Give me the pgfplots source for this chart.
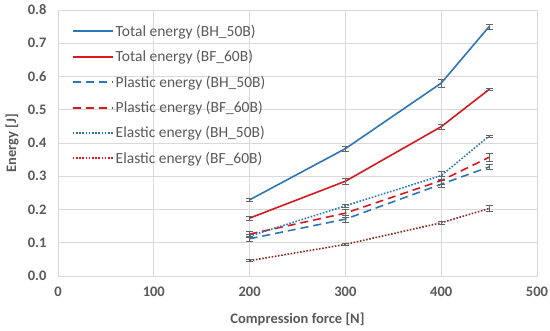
\documentclass[border=0pt]{standalone}
\usepackage{pgfplots}
\pgfplotsset{compat=1.18}
\usepackage{fontspec}
\setmainfont{Carlito}
\definecolor{cblue}{RGB}{46,117,182}
\definecolor{cred}{RGB}{215,25,30}
\definecolor{cbrown}{RGB}{140,45,35}
\definecolor{tgray}{RGB}{89,89,89}
\definecolor{ggray}{RGB}{217,217,217}
\definecolor{egray}{RGB}{100,100,100}
\newcommand{\lt}[1]{\textcolor{tgray}{#1}}
\begin{document}
\begin{tikzpicture}
\begin{axis}[
  name=ax,
  scale only axis,
  width=479pt, height=266pt,
  xmin=0, xmax=500, ymin=0, ymax=0.8,
  xtick={0,100,...,500}, ytick={0,0.1,...,0.8},
  grid=major, major grid style={ggray, line width=0.8pt},
  axis line style={ggray, line width=0.8pt},
  tick style={draw=none},
  /pgf/number format/assume math mode=true,
  ticklabel style={font=\fontsize{14.5}{16}\selectfont\bfseries, text=tgray},
  xticklabel style={yshift=-7pt, /pgf/number format/.cd, fixed, precision=0},
  yticklabel style={xshift=-8pt, /pgf/number format/.cd, fixed, fixed zerofill, precision=1},
  xlabel={Compression force [N]}, ylabel={Energy [J]},
  label style={font=\fontsize{14.5}{16}\selectfont\bfseries, text=tgray},
  xlabel style={at={(axis description cs:0.5,0)}, yshift=-43pt, anchor=center},
  ylabel style={at={(axis description cs:-0.096,0.5)}, anchor=center},
  legend style={at={(0.022,0.96)}, anchor=north west, draw=none, fill=none,
    font=\fontsize{15.5}{17}\selectfont, row sep=8.6pt,
    cells={anchor=west}},
  legend image code/.code={\draw[#1, line width=2pt] (0pt,0pt) -- (40pt,0pt);},
  error bars/error bar style={egray, line width=0.8pt, solid},
  error bars/error mark options={rotate=90, mark size=3.5pt, egray, line width=0.8pt, solid},
]
\addlegendimage{cblue}
\addlegendentry{\lt{Total energy (BH\_50B)}}
\addlegendimage{cred}
\addlegendentry{\lt{Total energy (BF\_60B)}}
\addlegendimage{cblue, dash pattern=on 8pt off 5pt}
\addlegendentry{\lt{Plastic energy (BH\_50B)}}
\addlegendimage{cred, dash pattern=on 8pt off 5pt}
\addlegendentry{\lt{Plastic energy (BF\_60B)}}
\addlegendimage{cblue, dash pattern=on 1.6pt off 1.6pt}
\addlegendentry{\lt{Elastic energy (BH\_50B)}}
\addlegendimage{cred, dash pattern=on 1.6pt off 1.6pt}
\addlegendentry{\lt{Elastic energy (BF\_60B)}}
\addplot[forget plot, cblue, line width=1.6pt, error bars/.cd, y dir=both, y explicit] coordinates {
 (200,0.229) +- (0,0.004) (300,0.383) +- (0,0.008) (400,0.580) +- (0,0.012) (450,0.750) +- (0,0.008)};
\addplot[forget plot, cred, line width=1.6pt, error bars/.cd, y dir=both, y explicit] coordinates {
 (200,0.174) +- (0,0.006) (300,0.285) +- (0,0.010) (400,0.449) +- (0,0.007) (450,0.561) +- (0,0.003)};
\addplot[forget plot, cblue, line width=1.6pt, dash pattern=on 8pt off 5pt, error bars/.cd, y dir=both, y explicit] coordinates {
 (200,0.112) +- (0,0.008) (300,0.171) +- (0,0.010) (400,0.276) +- (0,0.010) (450,0.328) +- (0,0.008)};
\addplot[forget plot, cred, line width=1.6pt, dash pattern=on 8pt off 5pt, error bars/.cd, y dir=both, y explicit] coordinates {
 (200,0.126) +- (0,0.007) (300,0.189) +- (0,0.012) (400,0.287) +- (0,0.012) (450,0.357) +- (0,0.012)};
\addplot[forget plot, cblue, line width=1.6pt, dash pattern=on 1.6pt off 1.6pt, error bars/.cd, y dir=both, y explicit] coordinates {
 (200,0.120) +- (0,0.005) (300,0.211) +- (0,0.004) (400,0.302) +- (0,0.012) (450,0.421) +- (0,0.003)};
\addplot[forget plot, cbrown, line width=1.6pt, dash pattern=on 1.6pt off 1.6pt, error bars/.cd, y dir=both, y explicit] coordinates {
 (200,0.046) +- (0,0.003) (300,0.095) +- (0,0.003) (400,0.160) +- (0,0.004) (450,0.203) +- (0,0.008)};
\end{axis}
\pgfresetboundingbox
\useasboundingbox ([shift={(-58pt,-55pt)}]ax.south west) rectangle ([shift={(13pt,10pt)}]ax.north east);
\end{tikzpicture}
\end{document}
